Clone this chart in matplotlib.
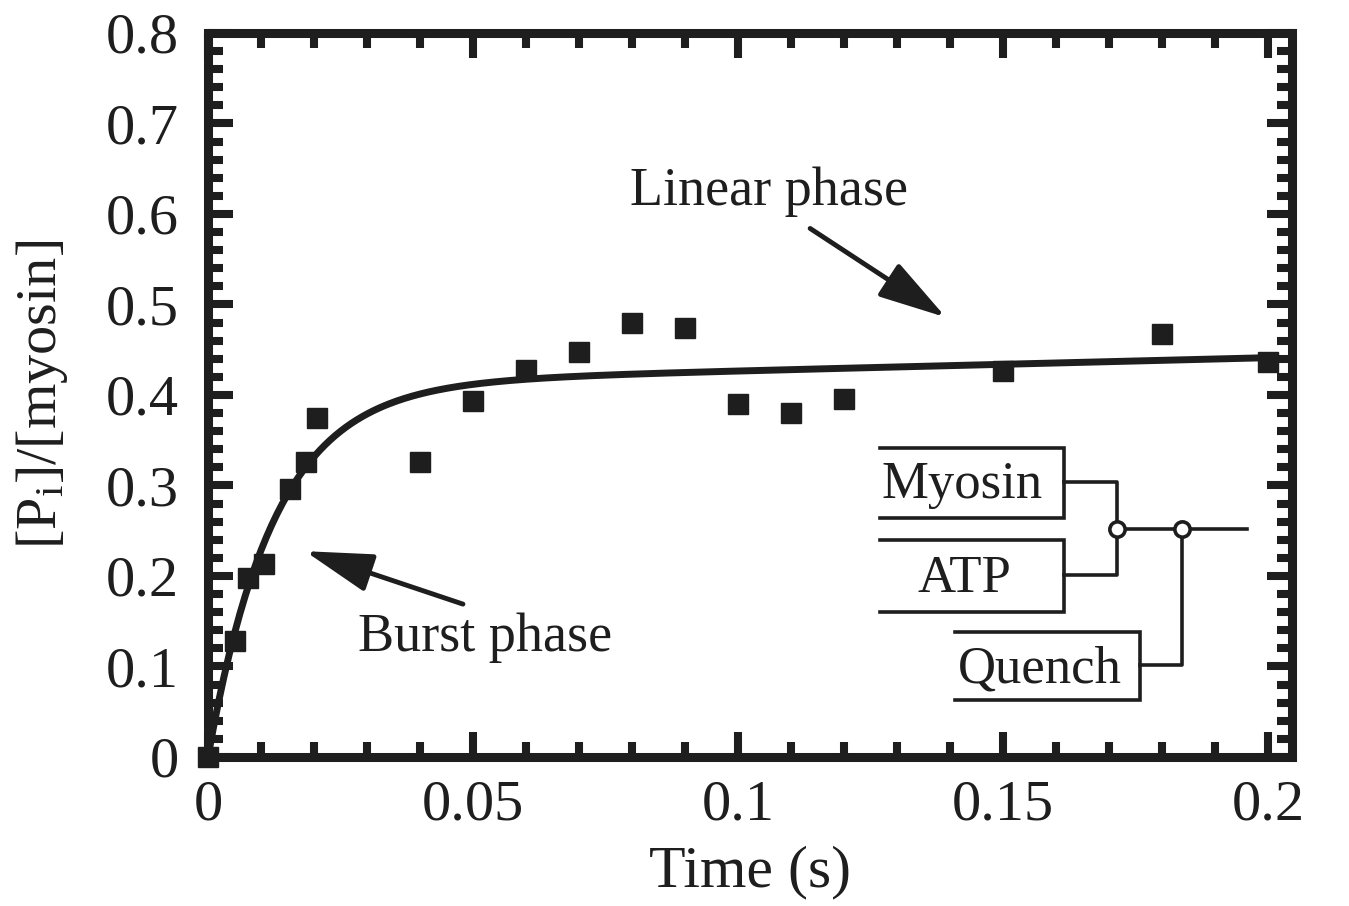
import numpy as np
import matplotlib
matplotlib.use("Agg")
import matplotlib.pyplot as plt
from matplotlib.ticker import MultipleLocator

plt.rcParams['font.family'] = ['Liberation Serif', 'DejaVu Serif']
plt.rcParams['mathtext.fontset'] = 'custom'
plt.rcParams['mathtext.rm'] = 'Liberation Serif'
plt.rcParams['mathtext.it'] = 'Liberation Serif:italic'

ink = '#1e1e1e'

# quench-flow data
time_s = [0, 0.005, 0.0075, 0.0105, 0.0155, 0.0185, 0.0205, 0.040, 0.050, 0.060,
          0.070, 0.080, 0.090, 0.100, 0.110, 0.120, 0.150, 0.180, 0.200]
pi_ratio = [0, 0.128, 0.198, 0.213, 0.296, 0.326, 0.375, 0.326, 0.393, 0.428,
            0.447, 0.479, 0.474, 0.390, 0.380, 0.395, 0.427, 0.467, 0.436]

# burst fit: A*(1-exp(-k t)) + v t
burst_amp = 0.412
burst_rate = 80.0
steady_rate = 0.146

xticks = [0, 0.05, 0.1, 0.15, 0.2]
xticklabels = ['0', '0.05', '0.1', '0.15', '0.2']
yticks = [0, 0.1, 0.2, 0.3, 0.4, 0.5, 0.6, 0.7, 0.8]
yticklabels = ['0', '0.1', '0.2', '0.3', '0.4', '0.5', '0.6', '0.7', '0.8']

fig = plt.figure(figsize=(13.49, 9.06), dpi=100)
ax = fig.add_axes([0.1542, 0.1645, 0.8035, 0.7991])

t = np.linspace(0, 0.2, 400)
fit = burst_amp * (1 - np.exp(-burst_rate * t)) + steady_rate * t
ax.plot(t, fit, color=ink, lw=5, solid_capstyle='butt', zorder=2)
ax.plot(time_s, pi_ratio, 's', color=ink, ms=15, zorder=3, clip_on=False)

ax.set_xlim(0, 0.2045)
ax.set_ylim(0, 0.8)
ax.set_xticks(xticks)
ax.set_xticklabels(xticklabels)
ax.set_yticks(yticks)
ax.set_yticklabels(yticklabels)
ax.xaxis.set_minor_locator(MultipleLocator(0.01))
ax.yaxis.set_minor_locator(MultipleLocator(0.02))
ax.tick_params(which='both', direction='in', top=True, right=True, color=ink,
               labelsize=42, labelcolor=ink)
ax.tick_params(which='major', length=18, width=5.8, pad=16)
ax.tick_params(axis='y', which='major', pad=21)
ax.tick_params(which='minor', length=11, width=5.8)
for s in ax.spines.values():
    s.set_linewidth(6.5)
    s.set_color(ink)

ax.set_xlabel('Time (s)', fontsize=43, color=ink, labelpad=10)
ax.set_ylabel('[P$_\\mathrm{i}$]/[myosin]', fontsize=42, color=ink, labelpad=26)

# phase annotations
arrow = dict(arrowstyle='-|>,head_length=2.1,head_width=0.6', color=ink,
             lw=3.5, mutation_scale=20, shrinkA=0, shrinkB=0)
ax.text(0.0796, 0.6095, 'Linear phase', fontsize=39, color=ink, ha='left', va='baseline')
ax.annotate('', xy=(0.1392, 0.4858), xytext=(0.1136, 0.584), arrowprops=arrow)
ax.text(0.0283, 0.117, 'Burst phase', fontsize=39, color=ink, ha='left', va='baseline')
ax.annotate('', xy=(0.0183, 0.2274), xytext=(0.0481, 0.1689), arrowprops=arrow)

# mixing schematic
lw_s = 2.6
def open_box(x0, x1, y0, y1):
    ax.plot([x0, x1, x1, x0], [y1, y1, y0, y0], color=ink, lw=lw_s,
            solid_joinstyle='miter', zorder=2)

open_box(0.1268, 0.1615, 0.264, 0.341)
ax.text(0.1422, 0.286, 'Myosin', fontsize=38, color=ink, ha='center', va='baseline')
open_box(0.1268, 0.1615, 0.1601, 0.2396)
ax.text(0.1428, 0.182, 'ATP', fontsize=38, color=ink, ha='center', va='baseline')
open_box(0.1409, 0.1758, 0.0629, 0.138)
ax.text(0.1570, 0.0828, 'Quench', fontsize=38, color=ink, ha='center', va='baseline')

ax.plot([0.1615, 0.1715, 0.1715], [0.3036, 0.3036, 0.2517], color=ink, lw=lw_s, zorder=2)
ax.plot([0.1615, 0.1715, 0.1715], [0.2009, 0.2009, 0.2517], color=ink, lw=lw_s, zorder=2)
ax.plot([0.1758, 0.1838, 0.1838], [0.1016, 0.1016, 0.2517], color=ink, lw=lw_s, zorder=2)
ax.plot([0.1715, 0.1960], [0.2517, 0.2517], color=ink, lw=lw_s, zorder=2)
ax.plot([0.1715, 0.1838], [0.2517, 0.2517], 'o', ms=11, mfc='white', mec=ink,
        mew=2.6, zorder=3)

fig.savefig('out.png', dpi=100)
